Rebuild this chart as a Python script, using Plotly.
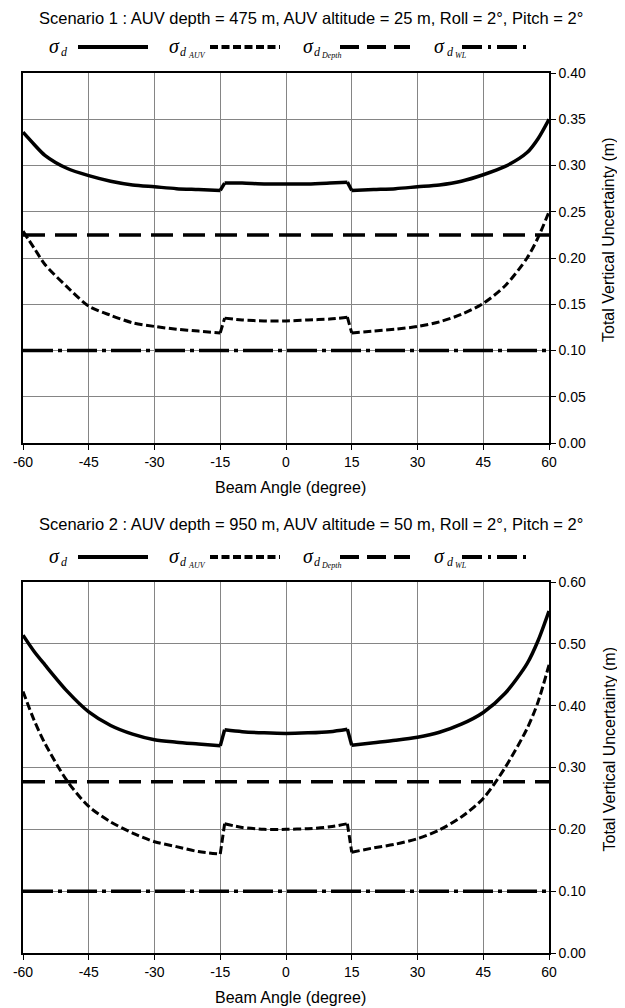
import plotly.graph_objects as go

# ---------------- data ----------------
angle = [-60, -57.5, -55, -50, -45, -40, -35, -30, -25, -20, -15, -14, -10, -5, 0,
         5, 10, 14, 15, 20, 25, 30, 35, 40, 45, 50, 55, 57.5, 60]

s1_total = [0.336, 0.323, 0.311, 0.297, 0.289, 0.283, 0.279, 0.277, 0.275, 0.274, 0.273, 0.281, 0.281, 0.280, 0.280,
            0.280, 0.281, 0.282, 0.273, 0.274, 0.275, 0.277, 0.279, 0.283, 0.290, 0.299, 0.314, 0.329, 0.350]
s1_auv = [0.229, 0.211, 0.193, 0.169, 0.148, 0.138, 0.130, 0.126, 0.123, 0.121, 0.119, 0.135, 0.133, 0.132, 0.132,
          0.133, 0.134, 0.136, 0.119, 0.121, 0.123, 0.126, 0.131, 0.139, 0.151, 0.170, 0.200, 0.222, 0.250]
s1_depth = [0.225, 0.225]
s1_wl = [0.10, 0.10]

s2_total = [0.514, 0.488, 0.466, 0.424, 0.390, 0.368, 0.354, 0.345, 0.341, 0.338, 0.335, 0.361, 0.358, 0.356, 0.355,
            0.356, 0.358, 0.362, 0.336, 0.340, 0.344, 0.349, 0.357, 0.370, 0.389, 0.420, 0.468, 0.505, 0.553]
s2_auv = [0.423, 0.377, 0.339, 0.279, 0.237, 0.212, 0.194, 0.180, 0.172, 0.164, 0.160, 0.209, 0.203, 0.200, 0.200,
          0.201, 0.204, 0.209, 0.163, 0.170, 0.176, 0.185, 0.199, 0.220, 0.250, 0.300, 0.363, 0.406, 0.466]
s2_depth = [0.277, 0.277]
s2_wl = [0.10, 0.10]

flat_x = [-60, 60]
x_ticks = [-60, -45, -30, -15, 0, 15, 30, 45, 60]
titles = ["Scenario 1 : AUV depth = 475 m, AUV altitude = 25 m, Roll = 2°, Pitch = 2°",
          "Scenario 2 : AUV depth = 950 m, AUV altitude = 50 m, Roll = 2°, Pitch = 2°"]
x_title = "Beam Angle (degree)"
y_title = "Total Vertical Uncertainty (m)"

# ---------------- layout helpers ----------------
# the page body has an 8px margin, so the figure is drawn 8px right / down
OFF = 8
W, H = 625 - OFF, 1008 - OFF
def px(x):
    return (x - OFF) / W
def py(y):
    return 1 - (y - OFF) / H

X0, X1 = 23, 549
panels = [
    dict(top=73, bottom=443, yr=[0, 0.40], dt=0.05, title_y=18, leg_y=47,
         total=s1_total, auv=s1_auv, depth=s1_depth, wl=s1_wl),
    dict(top=582, bottom=953, yr=[0, 0.60], dt=0.10, title_y=524, leg_y=557,
         total=s2_total, auv=s2_auv, depth=s2_depth, wl=s2_wl),
]

FONT = "Liberation Sans, Arial, sans-serif"
SERIF = "Liberation Serif, Times New Roman, serif"
styles = dict(
    total=dict(color="black", width=3.5, dash="solid"),
    auv=dict(color="black", width=3, dash="8px,3.5px"),
    depth=dict(color="black", width=3.5, dash="22px,10px"),
    wl=dict(color="black", width=3.5, dash="30px,5px,4px,5px"),
)
leg_styles = dict(
    total=dict(color="black", width=4, dash="solid"),
    auv=dict(color="black", width=4, dash="8px,3.5px"),
    depth=dict(color="black", width=4, dash="19px,8px"),
    wl=dict(color="black", width=4, dash="20px,6px,3px,6px"),
)

# index of the jumps around +/-15 degrees
j1 = angle.index(-15)
j2 = angle.index(14)

fig = go.Figure()
annotations = []
shapes = []

for i, p in enumerate(panels):
    xa = "x" if i == 0 else "x2"
    ya = "y" if i == 0 else "y2"
    for key in ("total", "auv"):
        ys = p[key]
        # smooth segments between the jumps, straight steps at the jumps
        segs = [(0, j1 + 1, "spline"), (j1, j1 + 2, "linear"), (j1 + 1, j2 + 1, "spline"),
                (j2, j2 + 2, "linear"), (j2 + 1, len(angle), "spline")]
        for a, b, shp in segs:
            fig.add_trace(go.Scatter(x=angle[a:b], y=ys[a:b], mode="lines",
                                     line=dict(**styles[key], shape=shp, smoothing=0.8) if shp == "spline"
                                     else dict(**styles[key], shape=shp),
                                     xaxis=xa, yaxis=ya, showlegend=False, hoverinfo="skip"))
    for key in ("depth", "wl"):
        fig.add_trace(go.Scatter(x=flat_x, y=p[key], mode="lines", line=styles[key],
                                 xaxis=xa, yaxis=ya, showlegend=False, hoverinfo="skip"))
    xkey = "xaxis" if i == 0 else "xaxis2"
    ykey = "yaxis" if i == 0 else "yaxis2"
    fig.update_layout(**{
        xkey: dict(domain=[px(X0), px(X1)], anchor=ya, range=[-60, 60],
                   tickvals=x_ticks, ticktext=[str(v) for v in x_ticks],
                   showgrid=True, gridcolor="#858585", gridwidth=1,
                   showline=True, linecolor="black", linewidth=1.5, mirror=True,
                   ticks="outside", ticklen=5, tickcolor="black", tickwidth=1,
                   tickfont=dict(family=FONT, size=14, color="black"),
                   zeroline=False, fixedrange=True, automargin=False),
        ykey: dict(domain=[py(p["bottom"]), py(p["top"])], anchor=xa, side="right",
                   range=p["yr"], dtick=p["dt"], tick0=0, tickformat=".2f",
                   showgrid=True, gridcolor="#858585", gridwidth=1,
                   showline=True, linecolor="black", linewidth=1.5, mirror=True,
                   ticks="outside", ticklen=5, tickcolor="black", tickwidth=1,
                   tickfont=dict(family=FONT, size=14, color="black"),
                   zeroline=False, fixedrange=True, automargin=False),
    })
    # titles
    annotations.append(dict(text=titles[i], x=px(311), y=py(p["title_y"]), xref="paper", yref="paper",
                            showarrow=False, xanchor="center", yanchor="middle",
                            font=dict(family=FONT, size=16.5, color="black")))
    annotations.append(dict(text=x_title, x=px(290), y=py(p["bottom"] + 44), xref="paper", yref="paper",
                            showarrow=False, xanchor="center", yanchor="middle",
                            font=dict(family=FONT, size=16, color="black")))
    annotations.append(dict(text=y_title, x=px(609), y=py((p["top"] + p["bottom"]) / 2 - 18),
                            xref="paper", yref="paper", textangle=-90,
                            showarrow=False, xanchor="center", yanchor="middle",
                            font=dict(family=FONT, size=16, color="black")))
    # manual legend
    ly = p["leg_y"]
    items = [("total", 47, 59, None, 0, (78, 148)),
             ("auv", 167, 178, "AUV", 186, (210, 280)),
             ("depth", 301, 312, "Depth", 319, (340, 410)),
             ("wl", 432, 445, "WL", 453, (462, 530))]
    for key, xs, xd, sub2, xsub2, (l0, l1) in items:
        annotations.append(dict(text="<i>σ</i>", x=px(xs), y=py(ly - 1), xref="paper", yref="paper",
                                showarrow=False, xanchor="left", yanchor="middle",
                                font=dict(family=SERIF, size=20, color="black")))
        annotations.append(dict(text="<i>d</i>", x=px(xd), y=py(ly + 5), xref="paper", yref="paper",
                                showarrow=False, xanchor="left", yanchor="middle",
                                font=dict(family=SERIF, size=12, color="black")))
        if sub2:
            annotations.append(dict(text="<i>" + sub2 + "</i>", x=px(xsub2), y=py(ly + 8), xref="paper",
                                    yref="paper", showarrow=False, xanchor="left", yanchor="middle",
                                    font=dict(family=SERIF, size=8, color="black")))
        shapes.append(dict(type="line", xref="paper", yref="paper", x0=px(l0), x1=px(l1),
                           y0=py(ly), y1=py(ly), line=leg_styles[key]))

fig.update_layout(template="none", width=W, height=H, autosize=False,
                  margin=dict(l=0, r=0, t=0, b=0, pad=0),
                  paper_bgcolor="white", plot_bgcolor="white",
                  annotations=annotations, shapes=shapes, showlegend=False)

fig.write_html("out.html")
